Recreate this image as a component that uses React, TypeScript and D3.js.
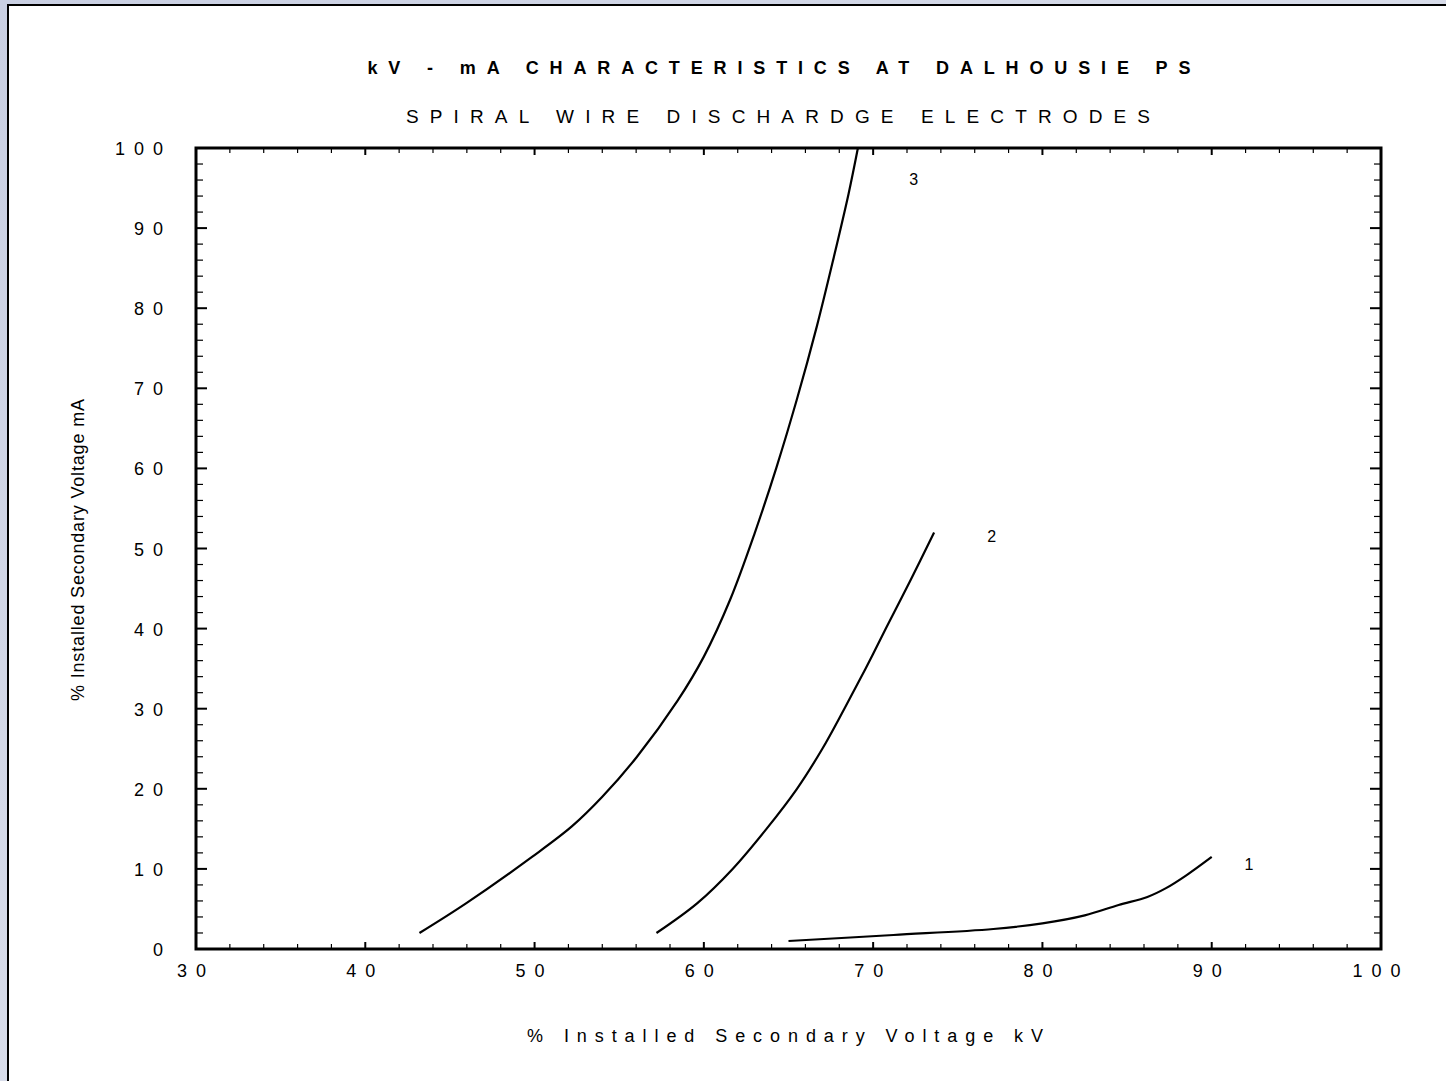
import * as d3 from "d3";
import React, { useRef, useEffect } from "react";

// % installed secondary voltage (kV) vs % current (mA)
const curve1Kv = [65.0, 71.2, 77.1, 80.0, 82.5, 84.5, 86.2, 87.3, 88.5, 90.0];
const curve1Ma = [1.0, 1.75, 2.5, 3.2, 4.2, 5.5, 6.5, 7.6, 9.2, 11.5];

const curve2Kv = [57.2, 59.6, 61.7, 63.7, 65.5, 67.0, 68.3, 69.55, 70.75, 72.2, 73.6];
const curve2Ma = [2.0, 5.7, 10.0, 15.0, 20.0, 25.0, 30.0, 35.0, 40.0, 46.0, 52.0];

const curve3Kv = [43.2, 45.95, 49.85, 52.2, 54.0, 56.05, 58.45, 60.0, 61.55, 63.0, 64.3, 65.48, 66.67, 67.68, 68.55, 69.1];
const curve3Ma = [2.0, 5.7, 11.5, 15.3, 19.0, 24.0, 31.0, 36.5, 43.6, 51.9, 60.2, 68.5, 77.7, 86.4, 94.3, 100];

const curveNames = ["1", "2", "3"];
const labelKv = [92.2, 77.0, 72.4];
const labelMa = [10.5, 51.4, 96.0];

const xMajorTicks = [30, 40, 50, 60, 70, 80, 90, 100];
const yMajorTicks = [0, 10, 20, 30, 40, 50, 60, 70, 80, 90, 100];

const title = "kV - mA CHARACTERISTICS AT DALHOUSIE PS";
const subtitle = "SPIRAL WIRE DISCHARDGE ELECTRODES";
const xTitle = "% Installed Secondary Voltage kV";
const yTitle = "% Installed Secondary Voltage mA";

const width = 1446;
const height = 1081;
const font = "'Liberation Sans', Arial, sans-serif";

function Chart() {
  const ref = useRef<SVGSVGElement>(null);
  const margin = { top: 148, left: 196, right: 1381, bottom: 949 };

  useEffect(() => {
    const svg = d3.select(ref.current);
    svg.selectAll("*").remove();

    const defs = svg.append("defs");
    const grad = defs
      .append("linearGradient")
      .attr("id", "bg")
      .attr("x1", 0)
      .attr("y1", 0)
      .attr("x2", 1)
      .attr("y2", 1);
    grad.append("stop").attr("offset", "0%").attr("stop-color", "#c9cfe2");
    grad.append("stop").attr("offset", "100%").attr("stop-color", "#e6e9f1");

    svg.append("rect").attr("width", width).attr("height", height).attr("fill", "url(#bg)");
    svg
      .append("rect")
      .attr("x", 8)
      .attr("y", 5)
      .attr("width", width + 20)
      .attr("height", height + 20)
      .attr("fill", "#fff")
      .attr("stroke", "#000")
      .attr("stroke-width", 2);

    const x = d3.scaleLinear().domain([30, 100]).range([margin.left, margin.right]);
    const y = d3.scaleLinear().domain([0, 100]).range([margin.bottom, margin.top]);

    const xMinor = d3.range(30, 100.1, 2);
    const yMinor = d3.range(0, 100.1, 2);

    const g = svg.append("g");

    // inward ticks on all four sides
    const tickLine = (x1: number, y1: number, x2: number, y2: number, w: number) =>
      g
        .append("line")
        .attr("x1", x1)
        .attr("y1", y1)
        .attr("x2", x2)
        .attr("y2", y2)
        .attr("stroke", "#000")
        .attr("stroke-width", w);

    xMinor.forEach((v) => {
      const major = xMajorTicks.includes(v);
      const len = major ? 7 : 5;
      tickLine(x(v), margin.bottom, x(v), margin.bottom - len, major ? 2 : 1.2);
      tickLine(x(v), margin.top, x(v), margin.top + len, major ? 2 : 1.2);
    });
    yMinor.forEach((v) => {
      const major = yMajorTicks.includes(v);
      const len = major ? 11 : 7;
      tickLine(margin.left, y(v), margin.left + len, y(v), major ? 2 : 1.2);
      tickLine(margin.right, y(v), margin.right - len, y(v), major ? 2 : 1.2);
    });

    g.append("rect")
      .attr("x", margin.left)
      .attr("y", margin.top)
      .attr("width", margin.right - margin.left)
      .attr("height", margin.bottom - margin.top)
      .attr("fill", "none")
      .attr("stroke", "#000")
      .attr("stroke-width", 3);

    // tick labels
    g.selectAll(".x-label")
      .data(xMajorTicks)
      .join("text")
      .attr("x", (d) => x(d))
      .attr("y", 977)
      .attr("text-anchor", "middle")
      .style("font-family", font)
      .style("font-size", "18px")
      .style("letter-spacing", "9px")
      .text((d) => d);

    g.selectAll(".y-label")
      .data(yMajorTicks)
      .join("text")
      .attr("x", 163 + 9)
      .attr("y", (d) => y(d) + 7)
      .attr("text-anchor", "end")
      .style("font-family", font)
      .style("font-size", "18px")
      .style("letter-spacing", "9px")
      .text((d) => d);

    // curves
    const series = [
      { kv: curve1Kv, ma: curve1Ma },
      { kv: curve2Kv, ma: curve2Ma },
      { kv: curve3Kv, ma: curve3Ma },
    ];
    const line = d3
      .line<[number, number]>()
      .x((d) => x(d[0]))
      .y((d) => y(d[1]))
      .curve(d3.curveCatmullRom.alpha(0.5));

    g.selectAll(".curve")
      .data(series)
      .join("path")
      .attr("d", (s) => line(s.kv.map((v, i) => [v, s.ma[i]] as [number, number])))
      .attr("fill", "none")
      .attr("stroke", "#000")
      .attr("stroke-width", 2.2);

    g.selectAll(".curve-label")
      .data(curveNames)
      .join("text")
      .attr("x", (d, i) => x(labelKv[i]))
      .attr("y", (d, i) => y(labelMa[i]) + 5)
      .attr("text-anchor", "middle")
      .style("font-family", font)
      .style("font-size", "16px")
      .text((d) => d);

    // titles
    svg
      .append("text")
      .attr("x", 779)
      .attr("y", 74)
      .attr("text-anchor", "middle")
      .attr("textLength", 823)
      .attr("lengthAdjust", "spacing")
      .style("font-family", font)
      .style("font-size", "18px")
      .style("font-weight", "bold")
      .text(title);

    svg
      .append("text")
      .attr("x", 778)
      .attr("y", 123)
      .attr("text-anchor", "middle")
      .attr("textLength", 744)
      .attr("lengthAdjust", "spacing")
      .style("font-family", font)
      .style("font-size", "19px")
      .text(subtitle);

    svg
      .append("text")
      .attr("x", 785)
      .attr("y", 1042)
      .attr("text-anchor", "middle")
      .attr("textLength", 516)
      .attr("lengthAdjust", "spacing")
      .style("font-family", font)
      .style("font-size", "18px")
      .text(xTitle);

    svg
      .append("text")
      .attr("transform", `translate(84, 550) rotate(-90)`)
      .attr("text-anchor", "middle")
      .attr("textLength", 302)
      .attr("lengthAdjust", "spacing")
      .style("font-family", font)
      .style("font-size", "18px")
      .text(yTitle);
  }, []); // eslint-disable-line react-hooks/exhaustive-deps

  return (
    <svg
      ref={ref}
      width={width}
      height={height}
      style={{ position: "absolute", left: 0, top: 0, display: "block" }}
    ></svg>
  );
}

export default function App() {
  return <Chart />;
}
